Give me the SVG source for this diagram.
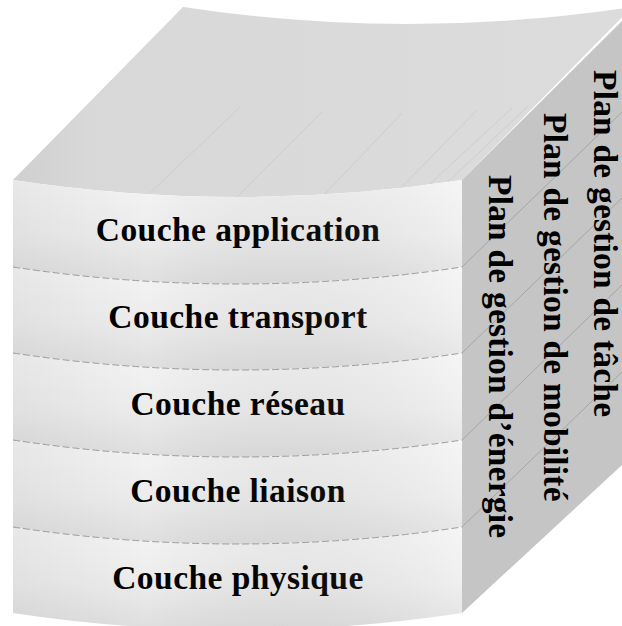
<svg xmlns="http://www.w3.org/2000/svg" width="622" height="626" viewBox="0 0 622 626">
  <style>
    .lbl { font-family: "Liberation Serif", "Times New Roman", serif; font-weight: bold; font-size: 33.5px; fill: #000; letter-spacing: 0.45px; }
    .vlbl { letter-spacing: 0.2px; }
    .div { fill: none; stroke: #9c9c9c; stroke-width: 1; stroke-dasharray: 7 3; }
    .rline { stroke: #a2a2a2; stroke-width: 0.9; fill: none; }
    .tline { stroke: #cdcdcd; stroke-width: 1; fill: none; }
  </style>
  <defs>
    <linearGradient id="layerFill" x1="0" y1="0" x2="0" y2="1">
      <stop offset="0" stop-color="#f4f4f4"/>
      <stop offset="0.55" stop-color="#ececec"/>
      <stop offset="1" stop-color="#dedede"/>
    </linearGradient>
    <linearGradient id="sideShade" x1="0" y1="0" x2="1" y2="0">
      <stop offset="0" stop-color="#000" stop-opacity="0.05"/>
      <stop offset="0.3" stop-color="#000" stop-opacity="0"/>
      <stop offset="1" stop-color="#fff" stop-opacity="0.15"/>
    </linearGradient>
    <linearGradient id="topFill" x1="0" y1="0" x2="1" y2="0">
      <stop offset="0" stop-color="#cfcfcf"/>
      <stop offset="0.12" stop-color="#d8d8d8"/>
      <stop offset="1" stop-color="#dcdcdc"/>
    </linearGradient>
  </defs>

  <!-- top face of the stack -->
  <g id="top-face">
    <path d="M13,180 L183,7 Q407,41 632,7 L462,180 Q237.5,214 13,180 Z" fill="url(#topFill)"/>
    <path class="tline" d="M150,193 L240,107 M237,197 L322,112 M323,196 L402,113 M400,189 L477,110 M430,184 L512,108 M448,182 L528,106"/>
  </g>

  <!-- right face carrying the management planes -->
  <g id="right-face">
    <path d="M462,180 L622,21 L622,465 L462,613 Z" fill="#c5c5c5"/>
    <path class="rline" d="M462,267 L622,112 M462,353 L622,198 M462,440 L622,285 M462,527 L622,372"/>
  </g>

  <!-- protocol layers, top to bottom -->
  <g id="layer-application">
    <path d="M13,180 Q237.5,214 462,180 L462,267 Q237.5,301 13,267 Z" fill="url(#layerFill)"/>
    <text class="lbl" x="238" y="241" text-anchor="middle">Couche application</text>
  </g>
  <g id="layer-transport">
    <path d="M13,267 Q237.5,301 462,267 L462,353 Q237.5,387 13,353 Z" fill="url(#layerFill)"/>
    <text class="lbl" x="238" y="328" text-anchor="middle">Couche transport</text>
  </g>
  <g id="layer-reseau">
    <path d="M13,353 Q237.5,387 462,353 L462,440 Q237.5,474 13,440 Z" fill="url(#layerFill)"/>
    <text class="lbl" x="238" y="415" text-anchor="middle">Couche réseau</text>
  </g>
  <g id="layer-liaison">
    <path d="M13,440 Q237.5,474 462,440 L462,527 Q237.5,561 13,527 Z" fill="url(#layerFill)"/>
    <text class="lbl" x="238" y="502" text-anchor="middle">Couche liaison</text>
  </g>
  <g id="layer-physique">
    <path d="M13,527 Q237.5,561 462,527 L462,613 Q237.5,647 13,613 Z" fill="url(#layerFill)"/>
    <text class="lbl" x="238" y="589" text-anchor="middle">Couche physique</text>
  </g>

  <!-- soft horizontal shading over the front and dashed layer seams -->
  <g id="front-overlay">
    <path d="M13,180 Q237.5,214 462,180 L462,613 Q237.5,647 13,613 Z" fill="url(#sideShade)"/>
    <path class="div" d="M13,267 Q237.5,301 462,267 M13,353 Q237.5,387 462,353 M13,440 Q237.5,474 462,440 M13,527 Q237.5,561 462,527"/>
  </g>

  <!-- vertical plane labels -->
  <g id="plan-tache">
    <text class="lbl vlbl" transform="translate(594,70) rotate(90)">Plan de gestion de tâche</text>
  </g>
  <g id="plan-mobilite">
    <text class="lbl vlbl" transform="translate(544,113) rotate(90)">Plan de gestion de mobilité</text>
  </g>
  <g id="plan-energie">
    <text class="lbl vlbl" transform="translate(489,175) rotate(90)">Plan de gestion d’énergie</text>
  </g>
</svg>
